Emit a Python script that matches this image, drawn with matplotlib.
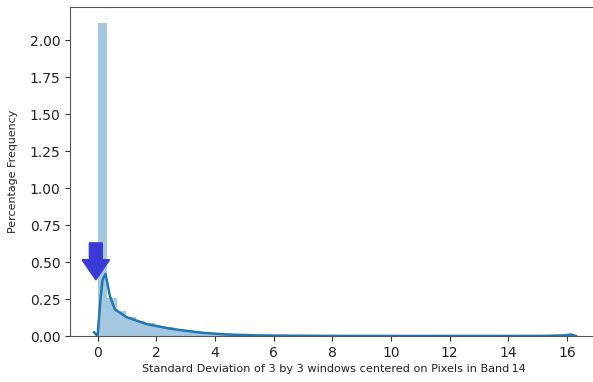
import numpy as np
import matplotlib
matplotlib.use("Agg")
import matplotlib.pyplot as plt
from matplotlib.patches import FancyArrow

# histogram (density, %) – 50 bins over 0..16.2
bin_lo, bin_hi, n_bins = 0.0, 16.2, 50
hist_heights = [2.12, 0.26, 0.17, 0.13, 0.10, 0.085, 0.07, 0.058, 0.048, 0.040,
                0.032, 0.026, 0.021, 0.017, 0.013, 0.010, 0.008, 0.006, 0.005, 0.004,
                0.003, 0.0025, 0.002, 0.0015, 0.0012, 0.001, 0.0008, 0.0007, 0.0006, 0.0005,
                0.0004, 0.0004, 0.0003, 0.0003, 0.0003, 0.0002, 0.0002, 0.0002, 0.0002, 0.0002,
                0.0002, 0.0002, 0.0002, 0.0002, 0.0003, 0.0004, 0.002, 0.003, 0.005, 0.008]

# KDE curve
kde_x = [-0.12, 0.0, 0.1, 0.17, 0.27, 0.42, 0.59, 0.99, 1.67, 2.46, 3.49, 4.4, 5.5,
         6.5, 8.0, 10.0, 12.0, 14.0, 15.3, 15.9, 16.15, 16.3]
kde_y = [0.025, 0.0, 0.25, 0.38, 0.42, 0.27, 0.18, 0.127, 0.081, 0.05, 0.023, 0.01, 0.004,
         0.002, 0.0008, 0.0004, 0.0003, 0.0003, 0.001, 0.004, 0.01, 0.0]

xticks = [0, 2, 4, 6, 8, 10, 12, 14, 16]
yticks = [0.0, 0.25, 0.5, 0.75, 1.0, 1.25, 1.5, 1.75, 2.0]

W, H = 593, 382
fig = plt.figure(figsize=(W / 100, H / 100), dpi=100)
ax = fig.add_axes([70 / W, (H - 336) / H, (597 - 70) / W, (336 - 7) / H])

edges = np.linspace(bin_lo, bin_hi, n_bins + 1)
ax.bar(edges[:-1], hist_heights, width=np.diff(edges), align="edge",
       color="#1f77b4", alpha=0.4, linewidth=0)
ax.plot(kde_x, kde_y, color="#1f77b4", lw=1.8)

arrow = FancyArrow(-0.06, 0.63, 0, -0.25, width=0.44, head_width=0.94,
                   head_length=0.136, length_includes_head=True,
                   color="#3a3ad9", zorder=5)
ax.add_patch(arrow)

ax.set_xlim(-0.94, 17.02)
ax.set_ylim(0, 2.226)
ax.set_xticks(xticks)
ax.set_yticks(yticks)
ax.set_yticklabels([f"{v:.2f}" for v in yticks])
ax.tick_params(labelsize=10, colors="#333333", labelcolor="#222222")
ax.set_xlabel("Standard Deviation of 3 by 3 windows centered on Pixels in Band\u200914",
              fontsize=8.15, color="#222222", labelpad=3)
ax.set_ylabel("Percentage Frequency", fontsize=7.9, color="#222222", labelpad=8)
for s in ax.spines.values():
    s.set_color("#555555")

fig.savefig("out.png", dpi=100)
